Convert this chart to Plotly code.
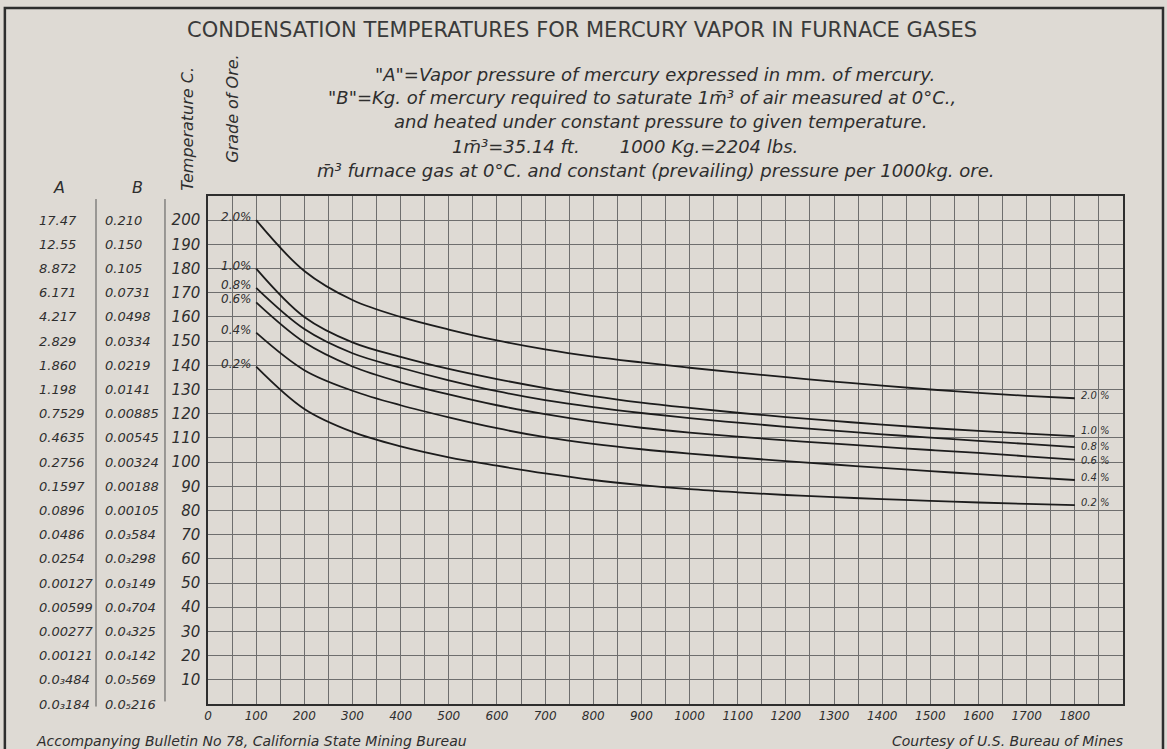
import plotly.graph_objects as go

# m3 furnace gas per 1000 kg ore
gas_volume = [100, 200, 300, 400, 500, 600, 700, 800, 900, 1000,
              1100, 1200, 1300, 1400, 1500, 1600, 1700, 1800]

# condensation temperature (deg C) for each grade of ore
grade_labels = ['2.0%', '1.0%', '0.8%', '0.6%', '0.4%', '0.2%']
grade_right = ['2.0 %', '1.0 %', '0.8 %', '0.6 %', '0.4 %', '0.2 %']
temp_20 = [200, 179, 167, 160, 154.8, 150.3, 146.6, 143.6, 141.2, 139,
           137, 135.1, 133.3, 131.6, 130, 128.6, 127.4, 126.4]
temp_10 = [180, 160, 149.5, 143.5, 138.5, 134.3, 130.6, 127.3, 124.6, 122.4,
           120.4, 118.6, 117, 115.5, 114.1, 112.9, 111.8, 110.7]
temp_08 = [172, 155, 145, 139, 133.8, 129.3, 125.6, 122.7, 120.3, 118.2,
           116.3, 114.6, 113, 111.5, 110.1, 108.8, 107.5, 106.2]
temp_06 = [166, 149.5, 139.5, 133, 128, 123.5, 119.8, 116.7, 114.2, 112.2,
           110.5, 109, 107.6, 106.3, 105, 103.8, 102.4, 101]
temp_04 = [153.5, 138, 129.5, 123.5, 118.5, 114, 110.3, 107.5, 105.3, 103.5,
           101.9, 100.4, 99, 97.6, 96.3, 95, 93.8, 92.6]
temp_02 = [139.5, 122, 112.5, 106.5, 102, 98.5, 95.3, 92.6, 90.5, 88.8,
           87.5, 86.4, 85.5, 84.7, 84, 83.3, 82.7, 82.2]
curves = [temp_20, temp_10, temp_08, temp_06, temp_04, temp_02]

# side table: temperature rows with A and B columns
table_temps = [200, 190, 180, 170, 160, 150, 140, 130, 120, 110, 100,
               90, 80, 70, 60, 50, 40, 30, 20, 10, 0]
col_a = ['17.47', '12.55', '8.872', '6.171', '4.217', '2.829', '1.860',
         '1.198', '0.7529', '0.4635', '0.2756', '0.1597', '0.0896',
         '0.0486', '0.0254', '0.00127', '0.00599', '0.00277', '0.00121',
         '0.0₃484', '0.0₃184']
col_b = ['0.210', '0.150', '0.105', '0.0731', '0.0498', '0.0334', '0.0219',
         '0.0141', '0.00885', '0.00545', '0.00324', '0.00188', '0.00105',
         '0.0₃584', '0.0₃298', '0.0₃149', '0.0₄704', '0.0₄325', '0.0₄142',
         '0.0₅569', '0.0₅216']
temp_ticks = [t for t in table_temps if t > 0]
x_ticks = list(range(0, 1900, 100))

ink = '#2e2e2e'
grid = '#6e6e6e'
paper_bg = '#dedad4'
font_fam = 'DejaVu Sans'


def ital(size):
    return dict(family=font_fam, size=size, color=ink, style='italic')


fig = go.Figure()
for temps in curves:
    fig.add_trace(go.Scatter(
        x=gas_volume, y=temps, mode='lines',
        line=dict(color='#1c1c1c', width=1.8, shape='spline', smoothing=1.0),
        hoverinfo='skip', showlegend=False
    ))

annotations = []
# right-hand labels are crowded for 1.0 / 0.8 / 0.6, nudge them apart a bit
right_shift = {'1.0 %': 6, '0.8 %': 1, '0.6 %': -1}
for label, rlabel, temps in zip(grade_labels, grade_right, curves):
    annotations.append(dict(x=gas_volume[0], y=temps[0], xref='x', yref='y',
                            text=label, showarrow=False, xanchor='right',
                            yanchor='middle', xshift=-2, yshift=3, font=ital(12)))
    annotations.append(dict(x=gas_volume[-1], y=temps[-1], xref='x', yref='y',
                            text=rlabel, showarrow=False, xanchor='left',
                            yanchor='middle', xshift=4,
                            yshift=right_shift.get(rlabel, 3), font=ital(10)))

# table columns left of the chart
for t, a, b in zip(table_temps, col_a, col_b):
    annotations.append(dict(x=-0.187, y=t, xref='paper', yref='y', text=a,
                            showarrow=False, xanchor='left', yanchor='middle',
                            font=ital(13)))
    annotations.append(dict(x=-0.115, y=t, xref='paper', yref='y', text=b,
                            showarrow=False, xanchor='left', yanchor='middle',
                            font=ital(13)))

annotations += [
    dict(x=-0.172, y=1.016, xref='paper', yref='paper', text='A', showarrow=False,
         yanchor='middle', font=ital(16)),
    dict(x=-0.085, y=1.016, xref='paper', yref='paper', text='B', showarrow=False,
         yanchor='middle', font=ital(16)),
    dict(x=-0.022, y=1.006, xref='paper', yref='paper', text='Temperature C.',
         showarrow=False, textangle=-90, xanchor='center', yanchor='bottom',
         font=ital(16)),
    dict(x=0.026, y=1.061, xref='paper', yref='paper', text='Grade of Ore.',
         showarrow=False, textangle=-90, xanchor='center', yanchor='bottom',
         font=ital(16)),
    dict(x=0.409, y=1.327, xref='paper', yref='paper', yanchor='middle',
         text='CONDENSATION TEMPERATURES FOR MERCURY VAPOR IN FURNACE GASES',
         showarrow=False, font=dict(family=font_fam, size=21, color='#3a3a3a')),
]

notes = [
    ('"A"=Vapor pressure of mercury expressed in mm. of mercury.', 0.488, 1.240),
    ('"B"=Kg. of mercury required to saturate 1m̄³ of air measured at 0°C.,', 0.474, 1.193),
    ('and heated under constant pressure to given temperature.', 0.494, 1.146),
    ('1m̄³=35.14 ft.       1000 Kg.=2204 lbs.', 0.456, 1.098),
    ('m̄³ furnace gas at 0°C. and constant (prevailing) pressure per 1000kg. ore.', 0.49, 1.051),
]
for txt, nx, ny in notes:
    annotations.append(dict(x=nx, y=ny, xref='paper', yref='paper', text=txt,
                            yanchor='middle', showarrow=False, font=ital(18)))

annotations += [
    dict(x=-0.19, y=-0.072, xref='paper', yref='paper', xanchor='left',
         yanchor='middle',
         text='Accompanying Bulletin No 78, California State Mining Bureau',
         showarrow=False, font=ital(14)),
    dict(x=1.002, y=-0.072, xref='paper', yref='paper', xanchor='right',
         yanchor='middle',
         text='Courtesy of U.S. Bureau of Mines', showarrow=False, font=ital(14)),
]

shapes = [
    # outer frame
    dict(type='rect', xref='paper', yref='paper', x0=-0.222, x1=1.0437,
         y0=-0.2, y1=1.370, line=dict(color=ink, width=2.5)),
    # column separators
    dict(type='line', xref='paper', yref='paper', x0=-0.1224, x1=-0.1224,
         y0=-0.005, y1=0.994, line=dict(color='#555', width=1)),
    dict(type='line', xref='paper', yref='paper', x0=-0.047, x1=-0.047,
         y0=0.005, y1=0.994, line=dict(color='#555', width=1)),
]

fig.update_layout(
    width=1167, height=749,
    margin=dict(l=208, r=44, t=196, b=45),
    paper_bgcolor=paper_bg, plot_bgcolor=paper_bg,
    showlegend=False,
    annotations=annotations, shapes=shapes,
    font=dict(family=font_fam, color=ink),
)
fig.update_xaxes(
    range=[0, 1900], tickvals=x_ticks, showgrid=True, gridcolor=grid, gridwidth=1,
    minor=dict(dtick=50, tick0=0, showgrid=True, gridcolor=grid, gridwidth=1),
    showline=True, linecolor=ink, linewidth=1.5, mirror=True, zeroline=False,
    ticks='', tickfont=ital(12),
)
fig.update_yaxes(
    range=[0, 210], tickvals=temp_ticks, ticksuffix='°', showgrid=True,
    gridcolor=grid, gridwidth=1,
    minor=dict(dtick=10, tick0=0, showgrid=True, gridcolor=grid, gridwidth=1),
    showline=True, linecolor=ink, linewidth=1.5, mirror=True, zeroline=False,
    ticks='', ticklabelstandoff=3, tickfont=ital(15),
)

# page body has a default margin; remove it so the chart fills the window
fig.write_html("out.html", config={'displayModeBar': False},
               post_script="document.body.style.margin='0';")
